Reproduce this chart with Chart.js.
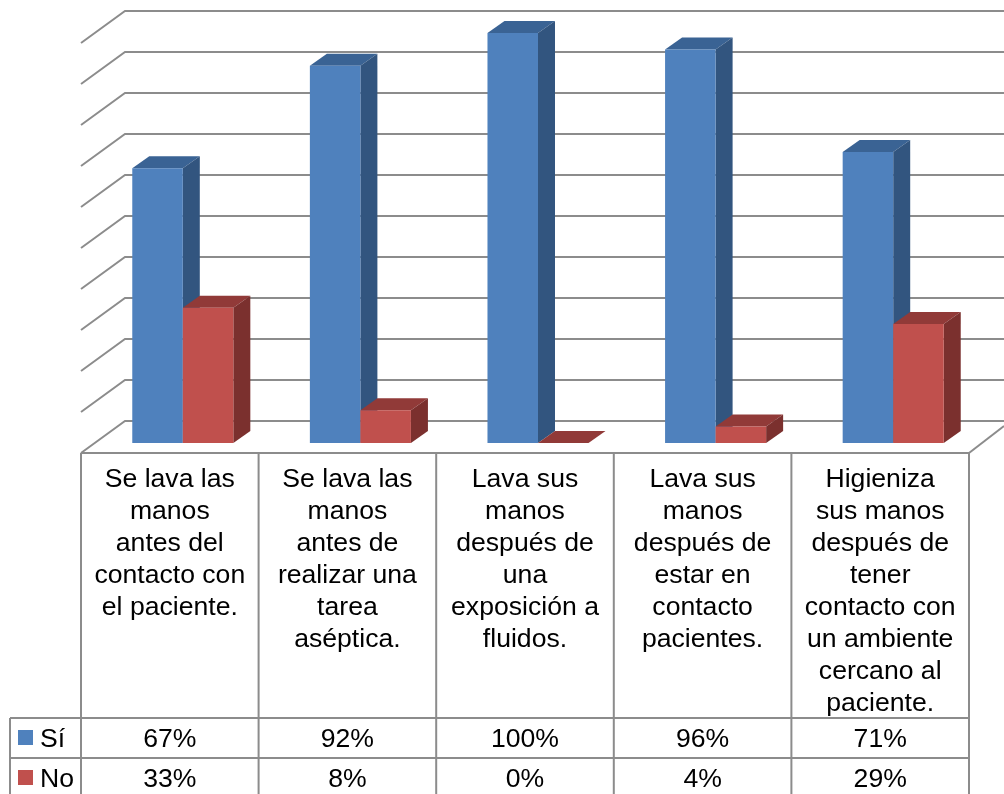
<!DOCTYPE html>
<html lang="es">
<head>
<meta charset="utf-8">
<title>Higiene de manos</title>
<style>
    html, body { margin: 0; padding: 0; background: #fff; overflow: hidden; }
    #wrap { position: relative; width: 1004px; height: 794px; }
</style>
<script src="https://cdn.jsdelivr.net/npm/chart.js@4"></script>
</head>
<body>
<div id="wrap"><canvas id="chart"></canvas></div>
<script>
const CATEGORIES = [
    ['Se lava las', 'manos', 'antes del', 'contacto con', 'el paciente.'],
    ['Se lava las', 'manos', 'antes de', 'realizar una', 'tarea', 'aséptica.'],
    ['Lava sus', 'manos', 'después de', 'una', 'exposición a', 'fluidos.'],
    ['Lava sus', 'manos', 'después de', 'estar en', 'contacto', 'pacientes.'],
    ['Higieniza', 'sus manos', 'después de', 'tener', 'contacto con', 'un ambiente', 'cercano al', 'paciente.'],
];
const SI_VALUES = [67, 92, 100, 96, 71];
const NO_VALUES = [33, 8, 0, 4, 29];

const COLORS = {
    si: '#4f81bd',
    siTop: '#3a6394',
    siSide: '#32557f',
    no: '#c0504d',
    noTop: '#913a38',
    noSide: '#7b302e',
    grid: '#8c8c8c',
    text: '#000',
};

const FONT = '26.6px "Liberation Sans", Arial, sans-serif';
const BAR_DX = 17;
const BAR_DY = 12;
const TABLE_SHIFT = 13;

function drawBarDepth(chart, meta, topColor, sideColor) {
    const ctx = chart.ctx;
    ctx.save();
    for (const bar of meta.data) {
        const left = bar.x - bar.width / 2;
        const right = bar.x + bar.width / 2;

        ctx.fillStyle = topColor;
        ctx.beginPath();
        ctx.moveTo(left, bar.y);
        ctx.lineTo(left + BAR_DX, bar.y - BAR_DY);
        ctx.lineTo(right + BAR_DX, bar.y - BAR_DY);
        ctx.lineTo(right, bar.y);
        ctx.closePath();
        ctx.fill();

        if (bar.base - bar.y < 1) continue;
        ctx.fillStyle = sideColor;
        ctx.beginPath();
        ctx.moveTo(right, bar.y);
        ctx.lineTo(right + BAR_DX, bar.y - BAR_DY);
        ctx.lineTo(right + BAR_DX, bar.base - BAR_DY);
        ctx.lineTo(right, bar.base);
        ctx.closePath();
        ctx.fill();
    }
    ctx.restore();
}

// Chart.js paints the second series first, here the red bars must land over the blue sides
const barDepth = {
    id: 'barDepth',
    beforeDatasetDraw(chart, args) {
        if (args.index === 1) return false;
        drawBarDepth(chart, args.meta, COLORS.siTop, COLORS.siSide);
    },
    afterDatasetDraw(chart, args) {
        if (args.index !== 0) return;
        const noMeta = chart.getDatasetMeta(1);
        drawBarDepth(chart, noMeta, COLORS.noTop, COLORS.noSide);
        noMeta.controller.draw();
    },
};

// Back wall and side wall lines, one per y tick
const wallGrid = {
    id: 'wallGrid',
    beforeDatasetsDraw(chart) {
        const { ctx, scales: { x, y }, width } = chart;
        const frontLeft = x.left - TABLE_SHIFT;
        const backLeft = frontLeft + 44;
        ctx.save();
        ctx.strokeStyle = COLORS.grid;
        ctx.lineWidth = 2;
        for (const tick of y.ticks) {
            const py = y.getPixelForValue(tick.value);
            ctx.beginPath();
            ctx.moveTo(frontLeft, py + 10);
            ctx.lineTo(backLeft, py - 22);
            ctx.lineTo(width, py - 22);
            ctx.stroke();
        }
        // right edge of the floor
        const floor = y.getPixelForValue(0) + 10;
        ctx.beginPath();
        ctx.moveTo(x.right - TABLE_SHIFT, floor);
        ctx.lineTo(width, floor - 27);
        ctx.stroke();
        ctx.restore();
    },
};

// Data table under the plot
const dataTable = {
    id: 'dataTable',
    afterDraw(chart) {
        const { ctx, scales: { x, y }, height } = chart;
        const step = x.width / CATEGORIES.length;
        const left = x.left - TABLE_SHIFT;
        const right = x.right - TABLE_SHIFT;
        const top = y.getPixelForValue(0) + 10;
        const rowSi = 718;
        const rowNo = 758;
        const keyLeft = 10;

        ctx.save();
        ctx.strokeStyle = COLORS.grid;
        ctx.lineWidth = 2;
        ctx.beginPath();
        ctx.moveTo(left, top);
        ctx.lineTo(right, top);
        ctx.moveTo(keyLeft, rowSi);
        ctx.lineTo(right, rowSi);
        ctx.moveTo(keyLeft, rowNo);
        ctx.lineTo(right, rowNo);
        ctx.moveTo(keyLeft, rowSi);
        ctx.lineTo(keyLeft, height);
        for (let i = 0; i <= CATEGORIES.length; i++) {
            ctx.moveTo(left + step * i, top);
            ctx.lineTo(left + step * i, height);
        }
        ctx.stroke();

        ctx.font = FONT;
        ctx.fillStyle = COLORS.text;
        ctx.textAlign = 'center';
        ctx.textBaseline = 'middle';
        CATEGORIES.forEach((lines, i) => {
            const cx = left + step * (i + 0.5);
            lines.forEach((line, n) => ctx.fillText(line, cx, 480 + n * 32));
            ctx.fillText(SI_VALUES[i] + '%', cx, 740);
            ctx.fillText(NO_VALUES[i] + '%', cx, 780);
        });

        ctx.textAlign = 'left';
        ctx.fillText('Sí', 40, 740);
        ctx.fillText('No', 40, 780);
        ctx.fillStyle = COLORS.si;
        ctx.fillRect(18, 730, 15, 15);
        ctx.fillStyle = COLORS.no;
        ctx.fillRect(18, 770, 15, 15);
        ctx.restore();
    },
};

new Chart(document.getElementById('chart'), {
    type: 'bar',
    data: {
        labels: CATEGORIES.map(lines => lines.join(' ')),
        datasets: [
            { label: 'Sí', data: SI_VALUES, backgroundColor: COLORS.si },
            { label: 'No', data: NO_VALUES, backgroundColor: COLORS.no },
        ],
    },
    options: {
        responsive: true,
        maintainAspectRatio: false,
        animation: false,
        layout: { padding: { left: 94, right: 22, top: 33, bottom: 351 } },
        plugins: { legend: { display: false }, tooltip: { enabled: false } },
        datasets: { bar: { categoryPercentage: 0.569, barPercentage: 1 } },
        scales: {
            x: { display: false },
            y: { display: false, min: 0, max: 100, ticks: { stepSize: 10 } },
        },
    },
    plugins: [wallGrid, barDepth, dataTable],
});
</script>
</body>
</html>
